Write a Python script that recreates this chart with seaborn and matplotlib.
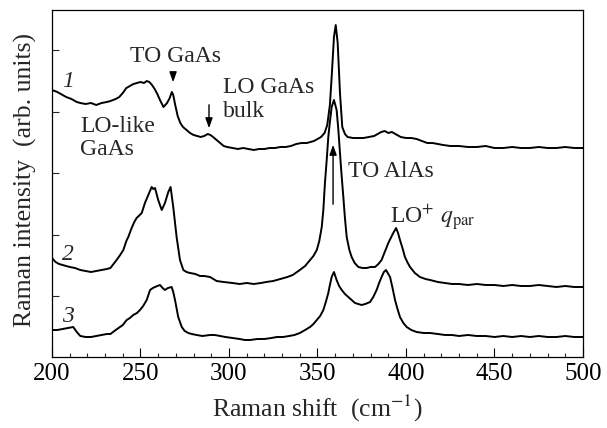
import matplotlib
matplotlib.use("Agg")
import matplotlib.pyplot as plt
import seaborn as sns
import pandas as pd

# ---- data (Raman shift, cm^-1 ; intensity, arb. units incl. vertical offsets) ----
x1 = [200, 203, 206, 208, 211, 214, 216, 219, 222, 225, 228, 231, 233, 236, 238, 240, 242, 244, 246, 248,
      250, 252, 253.5, 255, 256.5, 258, 259.5, 261, 263, 265, 266.5, 267.7, 268.5, 269.5, 271, 272.5, 274,
      276, 278, 280, 282, 284, 286, 288, 289.5, 291, 293, 295, 297, 299, 302, 305, 308, 311, 314, 317, 320,
      323, 326, 329, 332, 335, 338, 341, 344, 346, 348, 350, 352, 354, 355.5, 357, 358, 359.3, 360.3, 361.4,
      362.7, 364, 365.5, 367, 370, 373, 376, 379, 382, 384, 386, 388, 390, 392, 394, 397, 400, 403, 406, 409,
      412, 415, 418, 421, 425, 430, 435, 440, 445, 450, 455, 460, 465, 470, 475, 480, 485, 490, 495, 500]
y1 = [267, 265, 262, 260, 258, 255, 254, 253, 254, 252, 254, 255, 256, 258, 260, 264, 269, 271, 273, 274,
      275, 274, 276, 275, 272, 268, 263, 257, 250, 254, 259, 265, 262, 253, 241, 234, 230,
      227, 224, 222, 221, 220, 221, 223, 222, 220, 217, 214, 211, 210, 209, 208, 209, 208, 207, 208, 208,
      209, 209, 210, 210, 211, 213, 214, 214, 215, 216, 218, 220, 224, 232, 252, 280, 320, 332, 314,
      264, 230, 223, 220, 219, 219, 219, 220, 221, 223, 225, 226, 224, 225, 223, 220, 219, 219, 218, 216,
      214, 214, 213, 212, 211, 211, 210, 210, 211, 209, 209, 210, 209, 209, 210, 209, 209, 210, 209, 209]

x2 = [200, 202, 204, 206, 208, 210, 213, 216, 219, 222, 225, 228, 231, 233, 236.5, 238.5, 240.3, 242, 243.1,
      245, 246.5, 247.8, 249, 250.7, 252.5, 254.4, 256.3, 257.2, 258.2, 260, 262, 263.8, 265.7, 267, 268.5,
      270.4, 272.3, 274.2, 276, 278, 281, 283.6, 286, 289.3, 293, 297, 302, 306, 310, 314, 318, 321, 325,
      329, 333, 336, 340, 343, 345.8, 347.7, 349.6, 351, 352.4, 353.3, 354.2, 355.2, 356.1, 357, 358, 359.3,
      360.8, 361.7, 362.7, 363.6, 364.6, 365.5, 366.5, 368, 369.3, 371, 373.1, 375.5, 377.8, 380, 382.5,
      384.4, 386.2, 388, 390, 391.4, 392.8, 394.4, 395.5, 396.6, 398, 399.4, 401, 402.3, 405, 407.9, 411,
      413.6, 418, 422, 426, 430, 435, 440, 445, 450, 455, 460, 465, 470, 475, 480, 485, 490, 495, 500]
y2 = [99, 95, 93, 92, 91, 90, 89, 87, 86, 85, 86, 87, 88, 89, 97, 102, 107, 116, 120,
      129, 135, 139, 141, 144, 154, 162, 170, 168, 169, 157, 147, 154, 165, 170, 150,
      120, 97, 87, 85, 84, 83, 81, 81, 80, 76, 75, 74, 73, 74, 73, 74, 75, 76,
      78, 80, 82, 87, 91, 97, 101, 107, 116, 130, 147, 174, 197, 220, 235, 250, 257,
      247, 229, 204, 182, 160, 139, 120, 107, 100, 94, 90, 89, 89, 90, 90,
      93, 97, 105, 114, 119, 124, 129, 124, 117, 109, 100, 94, 90, 84, 80, 78,
      77, 75, 74, 73, 73, 72, 73, 72, 72, 71, 72, 71, 71, 72, 71, 70, 71, 70, 70]

x3 = [200, 203, 206, 209, 212, 214, 216, 219, 222, 225, 228, 231, 233, 236, 238.4, 240, 242.2, 244, 245.9,
      248, 249.7, 251.5, 253.5, 255.4, 257, 258.2, 259.5, 261, 262.5, 263.8, 265.5, 267.6, 268.5, 269.5,
      271.3, 273.3, 275, 277, 279, 281.7, 285, 289.3, 292, 295, 298, 302, 306, 309, 312, 316, 320, 324, 327,
      330.5, 334, 337, 340, 343, 345.8, 347.7, 349.6, 351.5, 353.3, 354.7, 356.1, 357, 358, 359.3, 360.8,
      362.2, 363.7, 365.5, 367.4, 369.3, 371.2, 373, 374.9, 377, 379.7, 381.5, 383.4, 384.8, 386.2, 387.5,
      388.7, 390, 391, 392.4, 393.8, 395.2, 396.6, 398.5, 400.4, 403, 406, 410, 413.6, 418, 422, 426, 430,
      435, 440, 445, 450, 455, 460, 465, 470, 475, 480, 485, 490, 495, 500]
y3 = [27, 27, 28, 29, 30, 25, 21, 20, 20, 21, 22, 23, 23, 27, 30, 32, 37, 39, 42,
      44, 47, 51, 57, 67, 69, 70, 71, 72, 69, 67, 69, 70, 65, 57,
      40, 30, 26, 24, 23, 22, 21, 22, 22, 21, 20, 19, 18, 17, 17, 18, 18, 19, 20,
      20, 21, 22, 24, 27, 30, 33, 37, 41, 47, 55, 64, 72, 80, 85, 77,
      71, 67, 63, 60, 57, 54, 53, 52, 53, 55, 60, 67, 74, 80, 85,
      87, 83, 80, 69, 57, 48, 40, 34, 30, 27, 25, 24, 24, 23, 22, 22, 21,
      22, 21, 21, 20, 21, 20, 21, 20, 21, 20, 20, 21, 20, 20]

curve_labels = ["1", "2", "3"]
x_ticks = [200, 250, 300, 350, 400, 450, 500]

df = pd.concat([
    pd.DataFrame({"shift": x1, "intensity": y1, "curve": "1"}),
    pd.DataFrame({"shift": x2, "intensity": y2, "curve": "2"}),
    pd.DataFrame({"shift": x3, "intensity": y3, "curve": "3"}),
])

sns.set_theme(style="ticks")
plt.rcParams["font.family"] = ["Liberation Serif", "DejaVu Serif"]
plt.rcParams["mathtext.fontset"] = "stix"

fig = plt.figure(figsize=(6.07, 4.28), dpi=100)
ax = fig.add_axes([52 / 607, 1 - 357 / 428, 531 / 607, 347 / 428])

sns.lineplot(data=df, x="shift", y="intensity", hue="curve", units="curve", estimator=None,
             palette=["black"] * 3, linewidth=1.4, legend=False, ax=ax)

ax.set_xlim(200, 500)
ax.set_ylim(0, 347)
ax.set_xticks(x_ticks)
ax.set_xticks(range(210, 500, 10), minor=True)
ax.set_yticks([61, 122.5, 184, 245.5, 307])
ax.set_yticklabels([])
ax.tick_params(axis="x", which="major", direction="in", length=6.5, width=0.8,
               labelsize=18, colors="black", pad=4)
ax.tick_params(axis="x", which="minor", direction="in", length=3, width=0.8)
ax.tick_params(axis="y", which="major", direction="in", length=5, width=0.8)
for s in ax.spines.values():
    s.set_linewidth(0.9)
    s.set_color("black")

ax.set_xlabel(r"Raman shift  (cm$^{-1}$)", fontsize=18.5, labelpad=6)
ax.set_ylabel("Raman intensity  (arb. units)", fontsize=18.5)
ax.yaxis.set_label_coords(-0.028, 0.51)

fs = 17
# curve numbers
ax.text(206, 270, curve_labels[0], fontsize=fs, style="italic", va="baseline")
ax.text(205.6, 97, curve_labels[1], fontsize=fs, style="italic", va="baseline")
ax.text(205.6, 35, curve_labels[2], fontsize=fs, style="italic", va="baseline")

# annotations
ax.text(244, 295, "TO GaAs", fontsize=fs, va="baseline")
ax.annotate("", xy=(268.4, 272), xytext=(268.4, 287),
            arrowprops=dict(arrowstyle="-|>,head_length=0.5,head_width=0.18", color="black", lw=1.0))
ax.text(296.6, 264, "LO GaAs", fontsize=fs, va="baseline")
ax.text(296.6, 240, "bulk", fontsize=fs, va="baseline")
ax.annotate("", xy=(288.7, 226), xytext=(288.7, 255),
            arrowprops=dict(arrowstyle="-|>,head_length=0.5,head_width=0.18", color="black", lw=1.0))
ax.text(215.8, 225, "LO-like", fontsize=fs, va="baseline")
ax.text(215.8, 202, "GaAs", fontsize=fs, va="baseline")
ax.text(367.2, 180, "TO AlAs", fontsize=fs, va="baseline")
ax.annotate("", xy=(358.8, 215), xytext=(358.8, 150),
            arrowprops=dict(arrowstyle="-|>,head_length=0.5,head_width=0.18", color="black", lw=1.0))
ax.text(391, 134, r"LO$^{+}$ $q_{\mathrm{par}}$", fontsize=fs, va="baseline")

fig.savefig("out.png", dpi=100)
